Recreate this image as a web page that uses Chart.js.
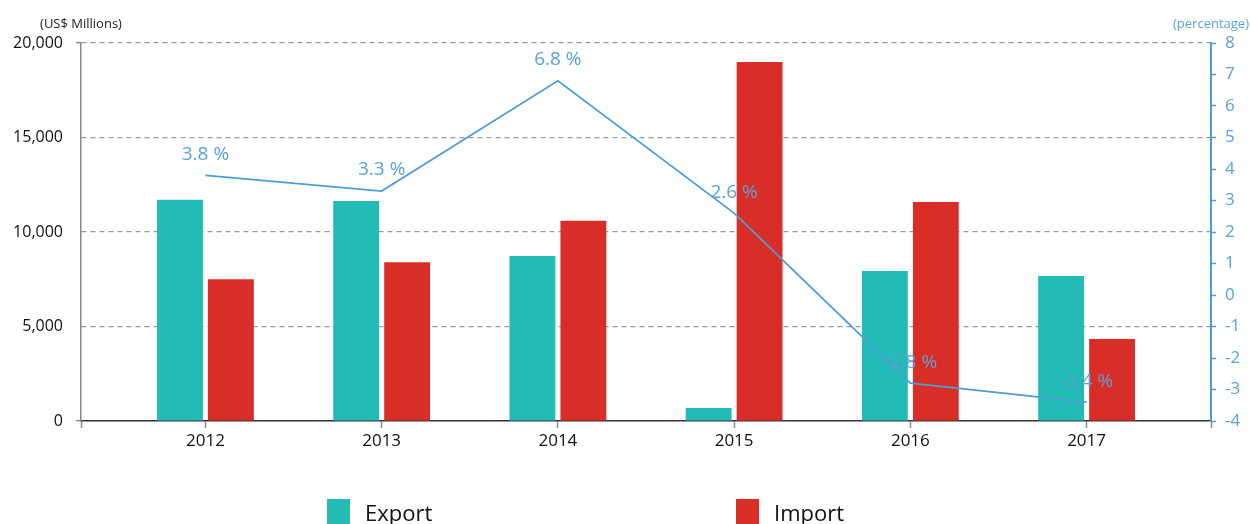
<!DOCTYPE html>
<html>
<head>
<meta charset="utf-8">
<script src="https://cdn.jsdelivr.net/npm/chart.js@4.4.1/dist/chart.umd.min.js"></script>
<style>
  html, body { margin: 0; padding: 0; background: #fff; }
  #wrap { position: relative; width: 1250px; height: 524px; }
</style>
</head>
<body>
<div id="wrap"><canvas id="c" width="1250" height="524"></canvas></div>
<script>
// ---- data ----
const years = ['2012', '2013', '2014', '2015', '2016', '2017'];
const exportValues = [11700, 11640, 8730, 690, 7940, 7670];
const importValues = [7500, 8400, 10600, 19000, 11590, 4340];
const growthPct = [3.8, 3.3, 6.8, 2.6, -2.8, -3.4];
const leftTicks = [0, 5000, 10000, 15000, 20000];
const rightTicks = [-4, -3, -2, -1, 0, 1, 2, 3, 4, 5, 6, 7, 8];
const seriesNames = ['Export', 'Import'];

// ---- styles ----
const FONT = "'Open Sans', 'Noto Sans', sans-serif";
const TEAL = '#22bbb5';
const RED = '#d92d27';
const BLUE = '#4d9dd6';
const LABEL_BLUE = '#5aa2d8';
const EDGE = 0.706; // x-axis margin in category units

const pointLabels = {
  id: 'pointLabels',
  afterDatasetsDraw(chart) {
    const meta = chart.getDatasetMeta(2);
    const ctx = chart.ctx;
    ctx.save();
    ctx.font = '19px ' + FONT;
    ctx.fillStyle = LABEL_BLUE;
    ctx.textAlign = 'center';
    ctx.textBaseline = 'middle';
    meta.data.forEach((pt, i) => {
      ctx.fillText(growthPct[i].toFixed(1) + ' %', pt.x, pt.y - 21);
    });
    ctx.restore();
  }
};

const extras = {
  id: 'extras',
  afterDraw(chart) {
    const ctx = chart.ctx;
    const area = chart.chartArea;
    ctx.save();
    ctx.textBaseline = 'middle';
    ctx.textAlign = 'center';
    ctx.font = '13px ' + FONT;
    ctx.fillStyle = '#222';
    ctx.fillText('(US$ Millions)', area.left, 24);
    ctx.fillStyle = LABEL_BLUE;
    ctx.fillText('(percentage)', area.right, 24);

    // legend
    const items = [
      { text: seriesNames[0], color: TEAL, bx: 327, tx: 365 },
      { text: seriesNames[1], color: RED, bx: 736, tx: 774 }
    ];
    ctx.font = '22px ' + FONT;
    ctx.textAlign = 'left';
    ctx.textBaseline = 'alphabetic';
    items.forEach(it => {
      ctx.fillStyle = it.color;
      ctx.fillRect(it.bx, 499, 23, 25);
      ctx.fillStyle = '#111';
      ctx.fillText(it.text, it.tx, 521);
    });
    ctx.restore();
  }
};

const ctx = document.getElementById('c').getContext('2d');
new Chart(ctx, {
  data: {
    datasets: [
      {
        type: 'bar',
        label: seriesNames[0],
        data: exportValues.map((v, i) => ({ x: i, y: v })),
        backgroundColor: TEAL,
        yAxisID: 'y',
        order: 1
      },
      {
        type: 'bar',
        label: seriesNames[1],
        data: importValues.map((v, i) => ({ x: i, y: v })),
        backgroundColor: RED,
        yAxisID: 'y',
        order: 1
      },
      {
        type: 'line',
        label: 'Growth',
        data: growthPct.map((v, i) => ({ x: i, y: v })),
        borderColor: BLUE,
        borderWidth: 1.8,
        pointRadius: 0,
        tension: 0,
        fill: false,
        yAxisID: 'y1',
        order: 0
      }
    ]
  },
  options: {
    responsive: false,
    animation: false,
    devicePixelRatio: 1,
    categoryPercentage: 0.819,
    barPercentage: 0.9,
    layout: { padding: { top: 43, left: 0, right: 0, bottom: 0 } },
    plugins: {
      legend: { display: false },
      tooltip: { enabled: false }
    },
    scales: {
      x: {
        type: 'linear',
        offset: false,
        min: -EDGE,
        max: years.length - 1 + EDGE,
        afterBuildTicks(scale) {
          const t = [{ value: -EDGE }];
          years.forEach((y, i) => t.push({ value: i }));
          t.push({ value: years.length - 1 + EDGE });
          scale.ticks = t;
        },
        afterFit(scale) { scale.height = 103; },
        ticks: {
          autoSkip: false,
          maxRotation: 0,
          padding: 3,
          color: '#111',
          font: { family: FONT, size: 17 },
          callback(v) {
            const i = Math.round(v);
            return Math.abs(v - i) < 1e-6 && years[i] !== undefined ? years[i] : '';
          }
        },
        grid: {
          offset: false,
          drawOnChartArea: false,
          drawTicks: true,
          tickLength: 7,
          tickColor: '#888',
          tickWidth: 1.5
        },
        border: { display: true, color: '#333', width: 1.5 }
      },
      y: {
        position: 'left',
        min: 0,
        max: 20000,
        afterBuildTicks(scale) { scale.ticks = leftTicks.map(v => ({ value: v })); },
        afterFit(scale) { scale.width = 81; },
        ticks: {
          padding: 13,
          color: '#111',
          font: { family: FONT, size: 16 },
          callback(v) { return Number(v).toLocaleString('en-US'); }
        },
        grid: {
          drawTicks: true,
          tickLength: 5,
          lineWidth: 1.2,
          color(c) { return c.tick && c.tick.value === 0 ? 'rgba(0,0,0,0)' : '#9a9a9a'; },
          tickColor(c) {
            return c.tick && (c.tick.value === 0 || c.tick.value === 20000) ? '#888' : 'rgba(0,0,0,0)';
          },
          tickWidth: 1.5
        },
        border: { display: true, color: '#888', width: 1.5, dash: [5, 4] }
      },
      y1: {
        position: 'right',
        min: -4,
        max: 8,
        afterBuildTicks(scale) { scale.ticks = rightTicks.map(v => ({ value: v })); },
        afterFit(scale) { scale.width = 39; },
        ticks: {
          padding: 9,
          color: LABEL_BLUE,
          font: { family: FONT, size: 17 }
        },
        grid: {
          drawOnChartArea: false,
          drawTicks: true,
          tickLength: 5,
          tickColor: BLUE,
          tickWidth: 1.5
        },
        border: { display: true, color: BLUE, width: 2 }
      }
    }
  },
  plugins: [pointLabels, extras]
});
</script>
</body>
</html>
